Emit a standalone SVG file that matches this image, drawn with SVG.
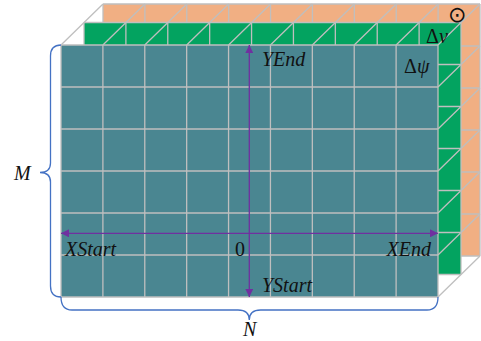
<svg xmlns="http://www.w3.org/2000/svg" width="481" height="341" viewBox="0 0 481 341">
<style>
.grid{fill:none;stroke:#bfbfbf;stroke-width:1.3}
.ax{fill:none;stroke:#7030a0;stroke-width:1.3}
.brace{fill:none;stroke:#4472c4;stroke-width:1.3}
.lbl{font-family:"Liberation Serif","Times New Roman",serif;font-size:20px;fill:#111}
.it{font-style:italic}
</style>
<defs>
<marker id="ah" viewBox="0 0 10 10" refX="10" refY="5" markerWidth="10" markerHeight="8" markerUnits="userSpaceOnUse" orient="auto-start-reverse">
<path d="M0,0L10,5L0,10z" fill="#7030a0"/>
</marker>
</defs>
<rect width="481" height="341" fill="#ffffff"/>
<g id="layer-orange">
<rect x="103" y="4" width="377" height="252" fill="#f1af83"/>
<path class="grid" d="M103,4V256M144.89,4V256M186.78,4V256M228.67,4V256M270.56,4V256M312.44,4V256M354.33,4V256M396.22,4V256M438.11,4V256M480,4V256M103,4H480M103,46H480M103,88H480M103,130H480M103,172H480M103,214H480M103,256H480"/>
</g>
<g id="layer-green">
<rect x="84" y="22.5" width="377" height="252" fill="#03a360"/>
<path class="grid" d="M84,22.5V274.5M125.89,22.5V274.5M167.78,22.5V274.5M209.67,22.5V274.5M251.56,22.5V274.5M293.44,22.5V274.5M335.33,22.5V274.5M377.22,22.5V274.5M419.11,22.5V274.5M461,22.5V274.5M84,22.5H461M84,64.5H461M84,106.5H461M84,148.5H461M84,190.5H461M84,232.5H461M84,274.5H461"/>
</g>
<g id="depth-lines">
<path class="grid" d="M61,45L103,4M102.89,45L144.89,4M144.78,45L186.78,4M186.67,45L228.67,4M228.56,45L270.56,4M270.44,45L312.44,4M312.33,45L354.33,4M354.22,45L396.22,4M396.11,45L438.11,4M438,45L480,4M438,87L480,46M438,129L480,88M438,171L480,130M438,213L480,172M438,255L480,214M438,297L480,256"/>
</g>
<g id="layer-front">
<rect x="61" y="45" width="377" height="252" fill="#4a8691"/>
<path class="grid" d="M61,45V297M102.89,45V297M144.78,45V297M186.67,45V297M228.56,45V297M270.44,45V297M312.33,45V297M354.22,45V297M396.11,45V297M438,45V297M61,45H438M61,87H438M61,129H438M61,171H438M61,213H438M61,255H438M61,297H438"/>
</g>
<g id="connectors">
<line class="ax" x1="61" y1="233.3" x2="438" y2="233.3" marker-start="url(#ah)" marker-end="url(#ah)"/>
<line class="ax" x1="249.3" y1="297" x2="249.3" y2="45" marker-start="url(#ah)" marker-end="url(#ah)"/>
<path class="brace" d="M61,45Q50.5,45 50.5,56V163Q50.5,172.5 40,172.5Q50.5,172.5 50.5,182V286Q50.5,297 61,297"/>
<path class="brace" d="M61,297Q61,310 72,310H238Q249.3,310 249.3,320Q249.3,310 260.6,310H427Q438,310 438,297"/>
</g>
<g id="labels">
<text class="lbl it" x="262" y="66">YEnd</text>
<text class="lbl it" x="65" y="256">XStart</text>
<text class="lbl" x="235" y="256">0</text>
<text class="lbl it" x="431" y="256" text-anchor="end">XEnd</text>
<text class="lbl it" x="262" y="292">YStart</text>
<text class="lbl it" x="243" y="336">N</text>
<text class="lbl it" x="14" y="180">M</text>
<text class="lbl" x="404" y="73">Δ<tspan class="it">ψ</tspan></text>
<text class="lbl" x="426" y="43">Δ<tspan class="it">v</tspan></text>
<text x="457.3" y="22" text-anchor="middle" style="font-family:'DejaVu Sans',sans-serif;font-size:22px;fill:#111">⊙</text>
</g>
</svg>
